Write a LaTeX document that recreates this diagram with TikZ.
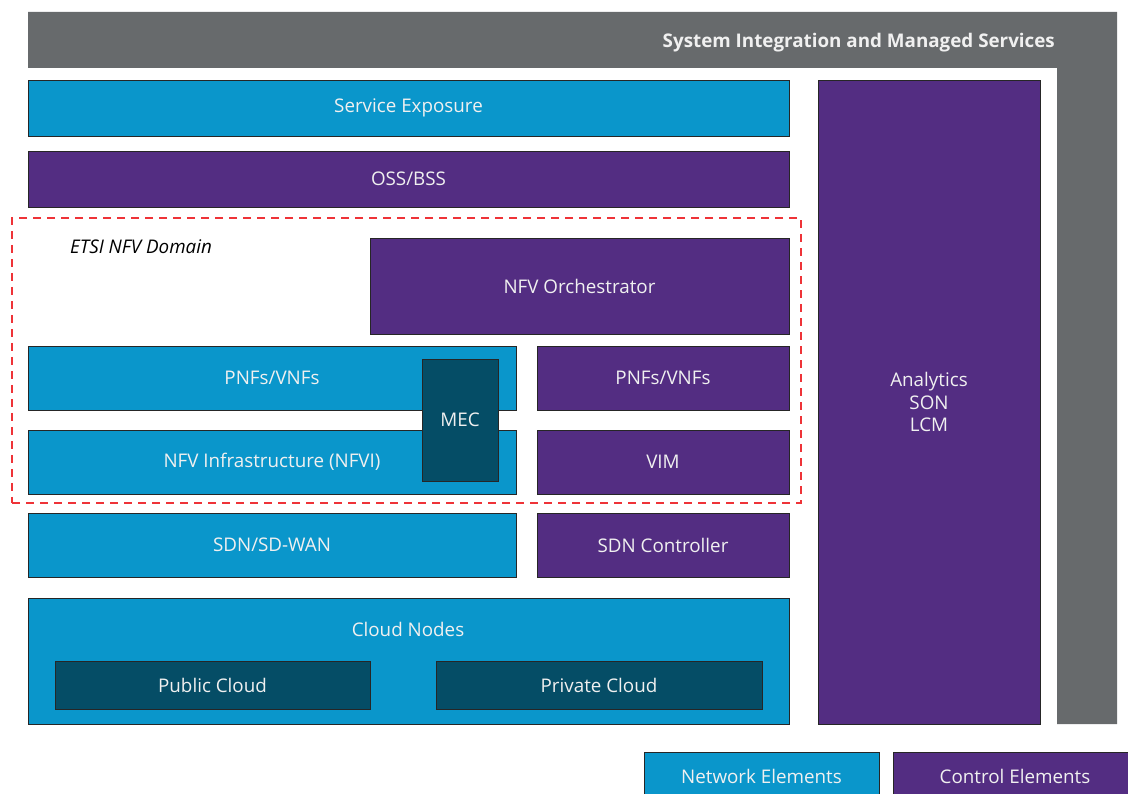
\documentclass[tikz,border=0pt]{standalone}
\usepackage{fontspec}
\setmainfont{Open Sans}
\definecolor{netblue}{HTML}{0A96CB}
\definecolor{ctlpurple}{HTML}{532D82}
\definecolor{darkteal}{HTML}{054D66}
\definecolor{frame}{HTML}{676A6C}
\definecolor{dashred}{HTML}{EE3338}
\definecolor{txt}{HTML}{F0F0F0}
\tikzset{
  lbl/.style={text=txt, font=\fontsize{18.8}{22.5}\selectfont, align=center, inner sep=0pt},
  box/.style={lbl, draw=black!85, line width=0.9pt, outer sep=0pt},
  netbox/.style={box, fill=netblue},
  ctlbox/.style={box, fill=ctlpurple},
  tealbox/.style={box, fill=darkteal},
}
% \boxat{style}{name}{x1}{y1}{x2}{y2}{text}
\newcommand\boxat[7]{%
  \node[#1, minimum width={(#5-#3)*1pt}, minimum height={(#6-#4)*1pt}] (#2) at ({(#3+#5)/2},{(#4+#6)/2}) {#7};}
\begin{document}
\begin{tikzpicture}[x=1pt, y=-1pt]
\useasboundingbox (0,0) rectangle (1128,794);
% gray L frame
\fill[frame] (28,12) -- (1117,12) -- (1117,724) -- (1057,724) -- (1057,68) -- (28,68) -- cycle;
\node[lbl, anchor=east, font=\fontsize{18.8}{22.5}\selectfont\bfseries] (sims) at (1055,43) {System Integration and Managed Services};
% boxes
\boxat{netbox}{se}{28}{80}{789}{136}{Service Exposure}
\boxat{ctlbox}{oss}{28}{151}{789}{207}{OSS/BSS}
\node[draw=dashred, line width=1.3pt, dash pattern=on 8pt off 6pt, inner sep=0pt, minimum width=789pt, minimum height=285pt] (etsi) at (406.5,360.5) {};
\node[anchor=west, font=\fontsize{18.8}{22.5}\selectfont\itshape, inner sep=0pt] (etsil) at (70,247) {ETSI NFV Domain};
\boxat{ctlbox}{nfvo}{370}{238}{789}{334}{NFV Orchestrator}
\boxat{netbox}{pnfl}{28}{346}{516}{410}{PNFs/VNFs}
\boxat{ctlbox}{pnfr}{537}{346}{789}{410}{PNFs/VNFs}
\boxat{netbox}{nfvi}{28}{430}{516}{494}{NFV Infrastructure (NFVI)}
\boxat{ctlbox}{vim}{537}{430}{789}{494}{VIM}
\boxat{tealbox}{mec}{422}{359}{498}{481}{MEC}
\boxat{netbox}{sdn}{28}{513}{516}{577}{SDN/SD-WAN}
\boxat{ctlbox}{sdnc}{537}{513}{789}{577}{SDN Controller}
\boxat{netbox}{cloud}{28}{598}{789}{724}{}
\node[lbl] (cloudl) at (408,629) {Cloud Nodes};
\boxat{tealbox}{pub}{55}{661}{370}{709}{Public Cloud}
\boxat{tealbox}{priv}{436}{661}{762}{709}{Private Cloud}
\boxat{ctlbox}{ana}{818}{80}{1040}{724}{Analytics\\SON\\LCM}
% legend
\begin{scope}
\clip (0,0) rectangle (1128,794);
\boxat{netbox}{lnet}{644}{752}{879}{800}{}
\boxat{ctlbox}{lctl}{893}{752}{1128}{800}{}
\end{scope}
\node[lbl] (lnett) at (761.5,776) {Network Elements};
\node[lbl] (lctlt) at (1015,776) {Control Elements};
\end{tikzpicture}
\end{document}
